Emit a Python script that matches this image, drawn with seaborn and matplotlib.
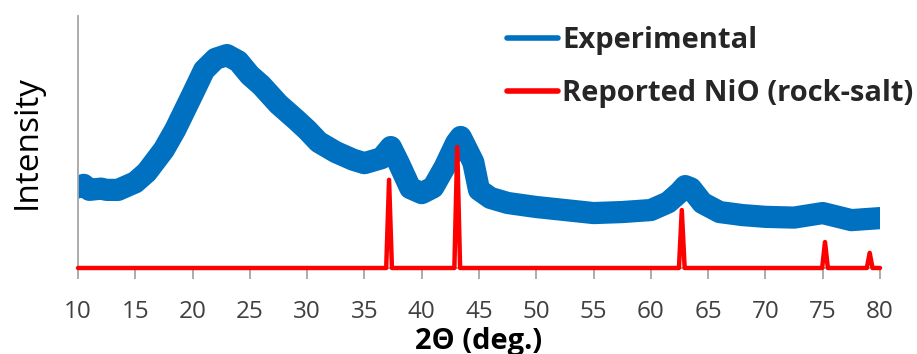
import numpy as np
import pandas as pd
import matplotlib
matplotlib.use("Agg")
import matplotlib.pyplot as plt
import seaborn as sns

# Experimental XRD pattern (band centre)
exp_2theta = [10, 10.5, 11, 12, 12.5, 13.5, 15, 16, 17.5, 18.5, 20, 21, 22, 23, 24, 25, 26,
              27.5, 29, 30, 31, 32.5, 34, 35, 36.5, 37.3, 38, 39, 40, 41, 42, 43, 43.4,
              44.5, 45, 46, 47.5, 50, 52.5, 55, 57.5, 60, 61.5, 62.5, 63, 63.5, 64.5,
              66, 68, 70, 72.5, 75, 77.5, 80]
exp_intensity = [32, 33, 31, 31.5, 31, 31, 34, 38, 47, 55, 69, 78.5, 83, 84.5, 82, 76.5, 72.5,
                 65, 59, 54.8, 50, 46, 43, 41.6, 43.6, 48, 41.6, 31.7, 29.7, 32, 40, 49.6, 52,
                 42, 31, 27.8, 25.8, 24.2, 23, 21.8, 22.2, 23, 26, 30, 32.5, 31.6, 25.8,
                 22.2, 21, 20.3, 20, 21.8, 19, 19.8]

# Reported NiO (rock-salt) reflections
nio_2theta = [37.15, 43.1, 62.7, 75.2, 79.1]
nio_height = [35, 48, 23, 10.3, 6]

HALF_WIDTH = 0.25  # drawing width of each reported line

ref_x = [10.0]
ref_y = [0.0]
for p, h in zip(nio_2theta, nio_height):
    ref_x += [p - HALF_WIDTH, p, p + HALF_WIDTH]
    ref_y += [0.0, h, 0.0]
ref_x.append(80.0)
ref_y.append(0.0)

exp_df = pd.DataFrame({"x": exp_2theta, "y": exp_intensity})
ref_df = pd.DataFrame({"x": ref_x, "y": ref_y})

sns.set_theme(style="white")
FAM = ["Open Sans", "DejaVu Sans"]
plt.rcParams["font.family"] = FAM

fig = plt.figure(figsize=(9.17, 3.54), dpi=100)
ax = fig.add_axes([78 / 917, 1 - 268 / 354, (880 - 78) / 917, (268 - 16) / 354])

sns.lineplot(data=exp_df, x="x", y="y", ax=ax, color="#0070C0", linewidth=16,
             estimator=None, sort=False, label="Experimental")
sns.lineplot(data=ref_df, x="x", y="y", ax=ax, color="#FF0000", linewidth=3.2,
             estimator=None, sort=False, label="Reported NiO (rock-salt)")
ax.lines[-1].set_clip_on(False)
ax.lines[-1].set_zorder(3)

ax.set_xlim(10, 80)
ax.set_ylim(0, 100)
ax.set_xticks(range(10, 81, 5))
ax.set_yticks([])

for s in ["top", "right"]:
    ax.spines[s].set_visible(False)
for s in ["left", "bottom"]:
    ax.spines[s].set_color("#A6A6A6")
    ax.spines[s].set_linewidth(1.3)

ax.tick_params(axis="x", direction="out", length=8, width=1.3, color="#A6A6A6",
               labelsize=17.5, labelcolor="#404040", pad=15, bottom=True)

ax.set_xlabel("2Θ (deg.)", fontsize=21, fontweight="bold", color="#000000", labelpad=2)
ax.set_ylabel("Intensity", fontsize=24, color="#000000", labelpad=25)

leg = ax.legend(loc="upper left", bbox_to_anchor=(507 / 917, 1 - 26 / 354),
                bbox_transform=fig.transFigure, frameon=False, handlelength=1.75,
                handletextpad=0.15, labelspacing=0.84, borderpad=0, borderaxespad=0,
                prop={"size": 21, "weight": "bold", "family": FAM})
for line in leg.get_lines():
    line.set_linewidth(4)

fig.savefig("out.png", dpi=100)
